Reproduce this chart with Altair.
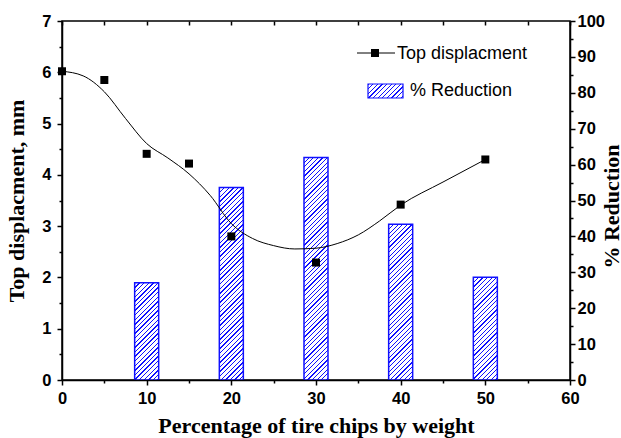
import altair as alt
import pandas as pd

# ---------------- data ----------------
pct_points = [0, 5, 10, 15, 20, 30, 40, 50]
top_disp = [6.02, 5.85, 4.41, 4.22, 2.80, 2.29, 3.42, 4.30]

curve_x = [0, 2.5, 5, 7.5, 10, 12.5, 15, 17.5, 20, 22.5, 25, 27.5, 30, 32.5, 35, 37.5, 40, 45, 50]
curve_y = [6.02, 5.93, 5.62, 5.10, 4.61, 4.33, 4.02, 3.60, 3.05, 2.76, 2.62, 2.555, 2.57, 2.66, 2.83, 3.10, 3.41, 3.86, 4.30]

pct_bars = [10, 20, 30, 40, 50]
reduction = [27.1, 53.6, 62.0, 43.4, 28.6]

# ---------------- layout ----------------
W, H = 508, 359
PAD = {"left": 62, "top": 21, "right": 51, "bottom": 58}
BAR_W = 24
BLUE = "#1010ff"


def hatch(w, h, spacing=4.6, line=1.3, color=BLUE):
    """Linear gradient (bbox units) that draws '///' stripes on a w x h rect."""
    k = (w + h) / (w * w + h * h)
    total = w + h
    n = int(total / spacing) + 1
    stops = []
    for i in range(n + 1):
        a = (i * spacing) / total
        b = (i * spacing + line) / total
        if a > 1:
            break
        stops.append({"offset": round(min(a, 1), 5), "color": color})
        stops.append({"offset": round(min(b, 1), 5), "color": color})
        stops.append({"offset": round(min(b, 1), 5), "color": "white"})
        c = ((i + 1) * spacing) / total
        stops.append({"offset": round(min(c, 1), 5), "color": "white"})
    return {"gradient": "linear", "x1": 0, "y1": 0, "x2": round(k * w, 6),
            "y2": round(k * h, 6), "stops": stops}


LABEL_FONT = "Liberation Sans"
TITLE_FONT = "Liberation Serif"
TITLE_SIZE = 22
LABEL_SIZE = 16.5

pts_df = pd.DataFrame({"pct": pct_points, "disp": top_disp})
curve_df = pd.DataFrame({"pct": curve_x, "disp": curve_y})
bars_df = pd.DataFrame({"pct": pct_bars, "red": reduction})

x_bottom = alt.X(
    "pct:Q",
    scale=alt.Scale(domain=[0, 60], nice=False, zero=False, padding=0),
    axis=alt.Axis(
        orient="bottom",
        values=list(range(0, 61, 5)),
        labelExpr="datum.value % 10 === 0 ? format(datum.value, 'd') : ''",
        tickSize={"condition": {"test": "datum.value % 10 === 0", "value": 5}, "value": 3},
        tickColor="black", tickWidth=1.5,
        domain=True, domainColor="black", domainWidth=1.5,
        labelFont=LABEL_FONT, labelFontWeight="bold", labelFontSize=LABEL_SIZE, labelColor="black",
        labelPadding=5, labelOverlap=False, labelFlush=False,
        title="Percentage of tire chips by weight",
        titleFont=TITLE_FONT, titleFontWeight="bold", titleFontSize=TITLE_SIZE, titleColor="black",
        titlePadding=9, grid=False, zindex=1,
    ),
)

y_right = alt.Y(
    "red:Q",
    scale=alt.Scale(domain=[0, 100], nice=False, padding=0),
    axis=alt.Axis(
        orient="right",
        values=list(range(0, 101, 5)),
        labelExpr="datum.value % 10 === 0 ? format(datum.value, 'd') : ''",
        tickSize={"condition": {"test": "datum.value % 10 === 0", "value": 5}, "value": 3},
        tickColor="black", tickWidth=1.5,
        domain=True, domainColor="black", domainWidth=1.5,
        labelFont=LABEL_FONT, labelFontWeight="bold", labelFontSize=LABEL_SIZE, labelColor="black",
        labelPadding=2, labelOverlap=False, labelFlush=False,
        title="% Reduction", titleAngle=270, titleBaseline="top",
        titleFont=TITLE_FONT, titleFontWeight="bold", titleFontSize=TITLE_SIZE, titleColor="black",
        titlePadding=-3, titleY=185, grid=False, zindex=1,
    ),
)

bar_layers = []
for p, r in zip(pct_bars, reduction):
    h = r / 100 * H
    bar_layers.append(
        alt.Chart(bars_df)
        .transform_filter(alt.datum.pct == p)
        .mark_bar(width=BAR_W, fill=hatch(BAR_W, h), stroke=BLUE, strokeWidth=1.5)
        .encode(x=x_bottom, y=y_right)
    )

legend_box = alt.Chart(pd.DataFrame({"a": [0]})).mark_rect(
    fill=hatch(35, 14), stroke=BLUE, strokeWidth=1.2
).encode(x=alt.value(306), x2=alt.value(341), y=alt.value(63), y2=alt.value(77))

legend_red_text = alt.Chart(pd.DataFrame({"t": ["% Reduction"]})).mark_text(
    align="left", baseline="middle", font=LABEL_FONT, fontSize=18, color="black"
).encode(x=alt.value(348), y=alt.value(69.5), text="t:N")

bars_layer = alt.layer(*bar_layers, legend_box, legend_red_text)

# ---------------- displacement layer ----------------
x_top = alt.X(
    "pct:Q",
    scale=alt.Scale(domain=[0, 60], nice=False, zero=False, padding=0),
    axis=alt.Axis(
        orient="top", values=list(range(0, 61, 5)), labels=False, title=None,
        tickSize=4, tickColor="black", tickWidth=1.5, domain=False, offset=-4, grid=False,
    ),
)

y_left = alt.Y(
    "disp:Q",
    scale=alt.Scale(domain=[0, 7], nice=False, padding=0),
    axis=alt.Axis(
        orient="left",
        values=[i / 2 for i in range(0, 15)],
        labelExpr="datum.value % 1 === 0 ? format(datum.value, 'd') : ''",
        tickSize={"condition": {"test": "datum.value % 1 === 0", "value": 5}, "value": 3},
        tickColor="black", tickWidth=1.5,
        domain=True, domainColor="black", domainWidth=1.5,
        labelFont=LABEL_FONT, labelFontWeight="bold", labelFontSize=LABEL_SIZE, labelColor="black",
        labelPadding=6, labelOverlap=False, labelFlush=False,
        title="Top displacment, mm",
        titleFont=TITLE_FONT, titleFontWeight="bold", titleFontSize=TITLE_SIZE, titleColor="black",
        titlePadding=13, grid=False, zindex=1,
    ),
)

curve = alt.Chart(curve_df).mark_line(
    color="black", strokeWidth=1, interpolate="monotone"
).encode(x=x_top, y=y_left)

points = alt.Chart(pts_df).mark_square(
    color="black", size=64, opacity=1
).encode(x=x_top, y=y_left)

legend_line = alt.Chart(pd.DataFrame({"a": [0]})).mark_rule(
    color="black", strokeWidth=1
).encode(x=alt.value(295), x2=alt.value(333), y=alt.value(32))

legend_sq = alt.Chart(pd.DataFrame({"a": [0]})).mark_square(
    color="black", size=64, opacity=1
).encode(x=alt.value(313), y=alt.value(32))

legend_disp_text = alt.Chart(pd.DataFrame({"t": ["Top displacment"]})).mark_text(
    align="left", baseline="middle", font=LABEL_FONT, fontSize=18, color="black"
).encode(x=alt.value(335), y=alt.value(33), text="t:N")

disp_layer = alt.layer(curve, points, legend_line, legend_sq, legend_disp_text)

chart = (
    alt.layer(bars_layer, disp_layer)
    .resolve_scale(x="independent", y="independent")
    .properties(width=W, height=H, padding=PAD,
                autosize=alt.AutoSizeParams(type="none"), background="white")
    .configure_view(stroke="black", strokeWidth=1.5)
)

chart.save("out.html", embed_options={"renderer": "svg", "actions": False})
